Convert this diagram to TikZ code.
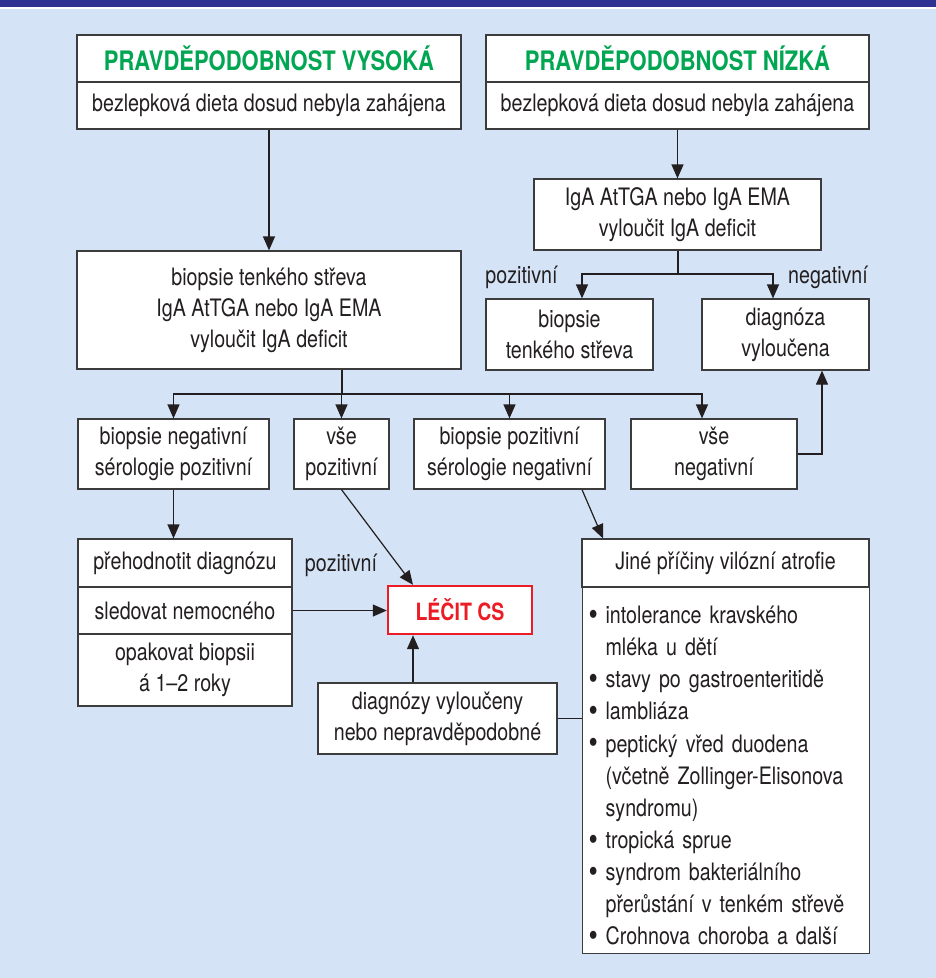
\documentclass[tikz,border=0pt]{standalone}
\usepackage{fontspec}
\setmainfont{TeX Gyre Heros}[FakeStretch=0.82]
\usetikzlibrary{positioning,arrows.meta,calc}
\definecolor{panel}{HTML}{D4E3F5}
\definecolor{bar}{HTML}{2E3192}
\definecolor{titlegreen}{HTML}{00A651}
\definecolor{alarm}{HTML}{ED1C24}
\definecolor{ink}{HTML}{231F20}
\definecolor{frame}{HTML}{3C3C3C}
\newcommand{\itm}{\makebox[17pt][l]{\raisebox{-0.08em}{\scalebox{1.35}{\textbullet}}}}
\newcommand{\cnt}{\hspace*{17pt}}

\begin{document}
\begin{tikzpicture}[
    x=1pt, y=-1pt,
    box/.style={draw=frame, line width=1.2pt, fill=white, align=center, inner sep=0pt, text=ink, font=\fontsize{24}{31}\selectfont},
    headbox/.style={box, text=titlegreen, font=\fontsize{26.8}{30}\selectfont\bfseries},
    treatbox/.style={box, draw=alarm, line width=2.4pt, text=alarm, font=\fontsize{23.8}{27}\selectfont\bfseries},
    lbl/.style={text=ink, inner sep=0pt, font=\fontsize{24}{28}\selectfont},
    arr/.style={-{Triangle[length=14pt,width=12pt]}, line width=1.2pt, draw=ink},
    link/.style={line width=1.2pt, draw=ink}
]
    \useasboundingbox (0,0) rectangle (936,978);
    \fill[panel] (0,0) rectangle (936,978);
    \fill[bar] (0,0) rectangle (936,7);
    \fill[white] (0,7) rectangle (936,8.5);

    % two starting columns
    \node[headbox, minimum width=384, minimum height=47] (hiT) at (269,58.5) {PRAVDĚPODOBNOST VYSOKÁ};
    \node[box, minimum width=384, minimum height=47] (hiD) at (269,105.5) {bezlepková dieta dosud nebyla zahájena};
    \node[headbox, minimum width=383, minimum height=47] (loT) at (677.5,58.5) {PRAVDĚPODOBNOST NÍZKÁ};
    \node[box, minimum width=383, minimum height=47] (loD) at (677.5,105.5) {bezlepková dieta dosud nebyla zahájena};

    \node[box, minimum width=287, minimum height=71] (igA) at (677.5,214.5) {IgA AtTGA nebo IgA EMA\\vyloučit IgA deficit};
    \node[box, minimum width=167, minimum height=71] (bts) at (569.5,334.5) {biopsie\\tenkého střeva};
    \node[box, minimum width=167, minimum height=71] (dgv) at (785.5,334.5) {diagnóza\\vyloučena};
    \node[lbl] (poz1) at (521.5,277) {pozitivní};
    \node[lbl] (neg1) at (828,277) {negativní};

    \node[box, minimum width=384, minimum height=118] (bio) at (269,310) {biopsie tenkého střeva\\IgA AtTGA nebo IgA EMA\\vyloučit IgA deficit};

    % results row
    \node[box, minimum width=191, minimum height=70] (bnsp) at (173.5,454) {biopsie negativní\\sérologie pozitivní};
    \node[box, minimum width=95, minimum height=70] (vp) at (341.5,454) {vše\\pozitivní};
    \node[box, minimum width=191, minimum height=70] (bpsn) at (509.5,454) {biopsie pozitivní\\sérologie negativní};
    \node[box, minimum width=166, minimum height=70] (vn) at (714,454) {vše\\negativní};

    % follow-up
    \node[box, minimum width=214, minimum height=48] (prehod) at (185,563) {přehodnotit diagnózu};
    \node[box, minimum width=214, minimum height=47] (sled) at (185,610.5) {sledovat nemocného};
    \node[box, minimum width=214, minimum height=72] (opak) at (185,670) {opakovat biopsii\\á 1–2 roky};

    \node[treatbox, minimum width=144, minimum height=48] (lecit) at (460,610) {LÉČIT CS};
    \node[lbl] (poz2) at (341,565) {pozitivní};
    \node[box, minimum width=239, minimum height=71] (dgvy) at (437.5,718.5) {diagnózy vyloučeny\\nebo nepravděpodobné};

    \node[box, minimum width=287, minimum height=48] (jine) at (725.5,563) {Jiné příčiny vilózní atrofie};
    \node[box, anchor=north west, text width=275, inner xsep=6, inner ysep=0, align=left, font=\fontsize{24}{32.1}\selectfont] (jlist) at (582,587)
        {\rule{0pt}{36pt}\itm intolerance kravského\\
         \cnt mléka u dětí\\
         \itm stavy po gastroenteritidě\\
         \itm lambliáza\\
         \itm peptický vřed duodena\\
         \cnt (včetně Zollinger-Elisonova\\
         \cnt syndromu)\\
         \itm tropická sprue\\
         \itm syndrom bakteriálního\\
         \cnt přerůstání v tenkém střevě\\
         \itm Crohnova choroba a další\rule[-9pt]{0pt}{9pt}};

    \coordinate (igsplit) at (678,274);
    \coordinate (biosplit) at (342,394);
    \coordinate (lx) at (413,0);

    \draw[arr] (hiD) -- (bio);
    \draw[arr] (loD) -- (igA);
    \draw[link] (igA.south -| igsplit) -- (igsplit);
    \draw[arr] (igsplit) -| ($(bts.north)+(12.5,0)$);
    \draw[arr] (igsplit) -| ($(dgv.north)+(-12.5,0)$);

    \draw[link] (bio.south -| biosplit) -- (biosplit);
    \draw[arr] (biosplit) -| (bnsp.north);
    \draw[arr] (biosplit) -- (biosplit -| vp.north) -- (vp.north);
    \draw[arr] (biosplit) -| (bpsn.north);
    \draw[arr] (biosplit) -| ($(vn.north)+(-12,0)$);
    \draw[arr] (vn.east) -| ($(dgv.south)+(36.5,0)$);

    \draw[arr] (bnsp.south) -- (bnsp.south |- prehod.north);
    \draw[arr] (vp.south) -- (lx |- lecit.north);
    \draw[arr] (sled.east) -- (sled.east -| lecit.west);
    \draw[arr] (lx |- dgvy.north) -- (lx |- lecit.south);
    \draw[link] (dgvy.east) -- (dgvy.east -| jlist.west);
    \draw[arr] ($(bpsn.south)+(72.5,0)$) -- ($(jine.north)+(-122.5,0)$);
\end{tikzpicture}
\end{document}
